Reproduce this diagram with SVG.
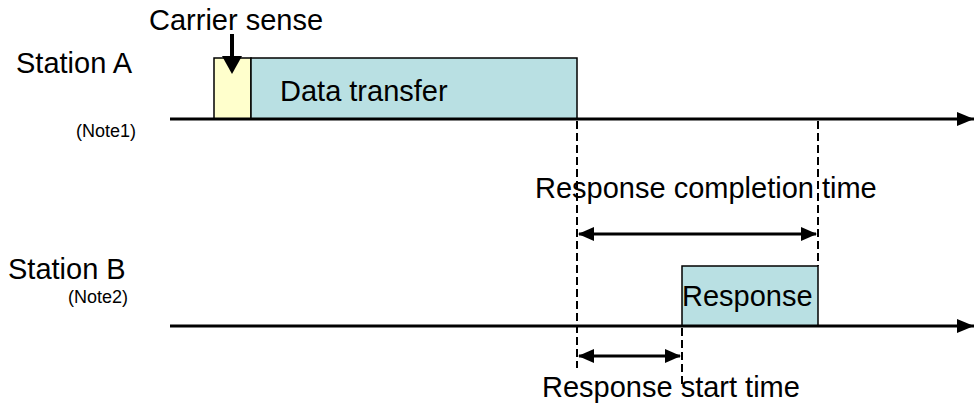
<svg xmlns="http://www.w3.org/2000/svg" width="974" height="409" viewBox="0 0 974 409">
<style>
text{font-family:"Liberation Sans",Arial,sans-serif;fill:#000}
.big{font-size:29px}
.note{font-size:18px}
.tl{stroke:#000;stroke-width:3;fill:none}
.dash{stroke:#000;stroke-width:2;stroke-dasharray:8 4;fill:none}
.box{stroke:#000;stroke-width:1.5}
.dim{stroke:#000;stroke-width:3;fill:none}
</style>
<defs>
<marker id="ah" markerUnits="userSpaceOnUse" markerWidth="16" markerHeight="14" refX="15" refY="7" orient="auto-start-reverse" viewBox="0 0 16 14">
<path d="M0,0 L16,7 L0,14 Z" fill="#000"/>
</marker>
<marker id="ta" markerUnits="userSpaceOnUse" markerWidth="17" markerHeight="14" refX="17" refY="7" orient="auto" viewBox="0 0 17 14">
<path d="M0,0 L17,7 L0,14 Z" fill="#000"/>
</marker>
</defs>
<rect width="974" height="409" fill="#fff"/>
<g id="labels">
<text class="big" x="16" y="73">Station A</text>
<text class="note" x="76" y="137">(Note1)</text>
<text class="big" x="8" y="279">Station B</text>
<text class="note" x="68" y="303">(Note2)</text>
</g>
<g id="carrier-sense">
<rect class="box" x="214" y="58" width="37" height="61" fill="#ffffcc"/>
<text class="big" x="149" y="30">Carrier sense</text>
</g>
<g id="data-transfer">
<rect class="box" x="251" y="58" width="326" height="61" fill="#b9e0e3"/>
<text class="big" x="280" y="101">Data transfer</text>
</g>
<g id="response">
<rect class="box" x="682" y="266" width="136" height="60" fill="#b9e0e3"/>
<text class="big" x="682" y="306">Response</text>
</g>
<g id="timing-labels">
<text class="big" x="535" y="198">Response completion time</text>
<text class="big" x="542" y="397">Response start time</text>
</g>
<g id="connectors">
<line class="tl" x1="170" y1="119" x2="974" y2="119" marker-end="url(#ta)"/>
<line class="tl" x1="170" y1="326" x2="974" y2="326" marker-end="url(#ta)"/>
<line class="dash" x1="577" y1="121" x2="577" y2="368"/>
<line class="dash" x1="818" y1="121" x2="818" y2="266"/>
<line class="dash" x1="682" y1="328" x2="682" y2="384"/>
<line class="dim" x1="579" y1="234" x2="816" y2="234" marker-start="url(#ah)" marker-end="url(#ah)"/>
<line class="dim" x1="579" y1="356" x2="680" y2="356" marker-start="url(#ah)" marker-end="url(#ah)"/>
<line stroke="#000" stroke-width="4" x1="232" y1="34" x2="232" y2="58"/>
<path d="M222,56 L242,56 L232,74 Z" fill="#000"/>
</g>
</svg>
